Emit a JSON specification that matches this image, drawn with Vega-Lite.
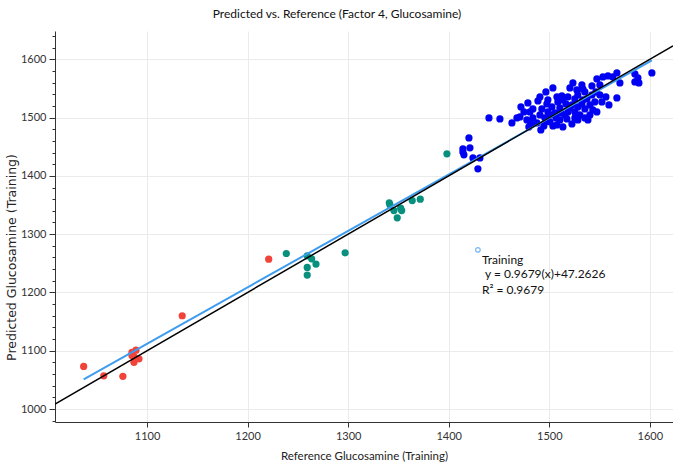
{
  "$schema": "https://vega.github.io/schema/vega-lite/v6.json",
  "width": 618,
  "height": 391,
  "autosize": {"type": "none"},
  "padding": {"left": 55, "top": 31, "right": 0, "bottom": 44},
  "background": "white",
  "title": {"text": "Predicted vs. Reference (Factor 4, Glucosamine)", "font": "Lato", "fontSize": 12, "fontWeight": "normal", "color": "#111111", "dx": -27, "offset": 9},
  "config": {
    "view": {"stroke": null},
    "axis": {
      "labelFont": "Lato", "labelFontSize": 11, "labelColor": "#333333",
      "titleFont": "Lato", "titleFontWeight": "normal", "titleColor": "#222222",
      "domainColor": "#333333", "tickColor": "#333333", "gridColor": "#ebebeb"
    }
  },
  "datasets": {
    "points": [
      {"ref": 1037, "pred": 1073, "group": "A"},
      {"ref": 1057, "pred": 1057, "group": "A"},
      {"ref": 1076, "pred": 1056, "group": "A"},
      {"ref": 1085, "pred": 1097, "group": "A"},
      {"ref": 1089, "pred": 1101, "group": "A"},
      {"ref": 1085, "pred": 1092, "group": "A"},
      {"ref": 1087, "pred": 1090, "group": "A"},
      {"ref": 1087, "pred": 1080, "group": "A"},
      {"ref": 1092, "pred": 1086, "group": "A"},
      {"ref": 1135, "pred": 1160, "group": "A"},
      {"ref": 1221, "pred": 1257, "group": "A"},
      {"ref": 1238.5, "pred": 1266.8, "group": "B"},
      {"ref": 1259.3, "pred": 1262.8, "group": "B"},
      {"ref": 1263.7, "pred": 1257.7, "group": "B"},
      {"ref": 1268, "pred": 1248.6, "group": "B"},
      {"ref": 1259.3, "pred": 1242.8, "group": "B"},
      {"ref": 1259.3, "pred": 1229.7, "group": "B"},
      {"ref": 1297, "pred": 1268, "group": "B"},
      {"ref": 1340.9, "pred": 1353.7, "group": "B"},
      {"ref": 1341.5, "pred": 1350.2, "group": "B"},
      {"ref": 1345.5, "pred": 1340.5, "group": "B"},
      {"ref": 1352.2, "pred": 1344.6, "group": "B"},
      {"ref": 1353.2, "pred": 1340.5, "group": "B"},
      {"ref": 1348.8, "pred": 1328, "group": "B"},
      {"ref": 1363.7, "pred": 1357.6, "group": "B"},
      {"ref": 1371.7, "pred": 1360, "group": "B"},
      {"ref": 1398.2, "pred": 1437.7, "group": "B"},
      {"ref": 1440.0, "pred": 1499.4, "group": "C"},
      {"ref": 1450.9, "pred": 1497.7, "group": "C"},
      {"ref": 1462.8, "pred": 1490.8, "group": "C"},
      {"ref": 1420.1, "pred": 1465.1, "group": "C"},
      {"ref": 1414.1, "pred": 1446.3, "group": "C"},
      {"ref": 1421.1, "pred": 1448.0, "group": "C"},
      {"ref": 1415.1, "pred": 1436.0, "group": "C"},
      {"ref": 1414.1, "pred": 1441.1, "group": "C"},
      {"ref": 1424.1, "pred": 1430.8, "group": "C"},
      {"ref": 1431.0, "pred": 1430.8, "group": "C"},
      {"ref": 1429.0, "pred": 1412.0, "group": "C"},
      {"ref": 1467.8, "pred": 1499.4, "group": "C"},
      {"ref": 1470.8, "pred": 1501.1, "group": "C"},
      {"ref": 1471.8, "pred": 1518.3, "group": "C"},
      {"ref": 1478.7, "pred": 1525.1, "group": "C"},
      {"ref": 1480.7, "pred": 1509.7, "group": "C"},
      {"ref": 1483.7, "pred": 1514.8, "group": "C"},
      {"ref": 1490.7, "pred": 1535.4, "group": "C"},
      {"ref": 1488.7, "pred": 1528.6, "group": "C"},
      {"ref": 1492.6, "pred": 1514.8, "group": "C"},
      {"ref": 1477.7, "pred": 1495.9, "group": "C"},
      {"ref": 1479.7, "pred": 1484.0, "group": "C"},
      {"ref": 1487.7, "pred": 1490.8, "group": "C"},
      {"ref": 1481.7, "pred": 1489.1, "group": "C"},
      {"ref": 1498.6, "pred": 1530.3, "group": "C"},
      {"ref": 1502.6, "pred": 1518.3, "group": "C"},
      {"ref": 1507.6, "pred": 1535.4, "group": "C"},
      {"ref": 1512.5, "pred": 1537.1, "group": "C"},
      {"ref": 1518.5, "pred": 1535.4, "group": "C"},
      {"ref": 1496.6, "pred": 1544.0, "group": "C"},
      {"ref": 1503.6, "pred": 1550.8, "group": "C"},
      {"ref": 1500.6, "pred": 1504.6, "group": "C"},
      {"ref": 1495.6, "pred": 1499.4, "group": "C"},
      {"ref": 1498.6, "pred": 1509.7, "group": "C"},
      {"ref": 1505.6, "pred": 1508.0, "group": "C"},
      {"ref": 1490.7, "pred": 1504.6, "group": "C"},
      {"ref": 1483.7, "pred": 1499.4, "group": "C"},
      {"ref": 1474.8, "pred": 1509.7, "group": "C"},
      {"ref": 1494.6, "pred": 1485.7, "group": "C"},
      {"ref": 1500.6, "pred": 1492.6, "group": "C"},
      {"ref": 1491.6, "pred": 1478.8, "group": "C"},
      {"ref": 1508.5, "pred": 1526.8, "group": "C"},
      {"ref": 1497.6, "pred": 1523.4, "group": "C"},
      {"ref": 1506.6, "pred": 1499.4, "group": "C"},
      {"ref": 1523.5, "pred": 1559.4, "group": "C"},
      {"ref": 1532.4, "pred": 1556.0, "group": "C"},
      {"ref": 1533.4, "pred": 1549.1, "group": "C"},
      {"ref": 1542.4, "pred": 1554.3, "group": "C"},
      {"ref": 1547.3, "pred": 1566.3, "group": "C"},
      {"ref": 1520.5, "pred": 1550.8, "group": "C"},
      {"ref": 1527.4, "pred": 1547.4, "group": "C"},
      {"ref": 1535.4, "pred": 1544.0, "group": "C"},
      {"ref": 1528.4, "pred": 1538.8, "group": "C"},
      {"ref": 1525.4, "pred": 1532.0, "group": "C"},
      {"ref": 1537.4, "pred": 1532.0, "group": "C"},
      {"ref": 1542.4, "pred": 1538.8, "group": "C"},
      {"ref": 1546.3, "pred": 1544.0, "group": "C"},
      {"ref": 1550.3, "pred": 1538.8, "group": "C"},
      {"ref": 1545.3, "pred": 1526.8, "group": "C"},
      {"ref": 1540.4, "pred": 1521.7, "group": "C"},
      {"ref": 1532.4, "pred": 1523.4, "group": "C"},
      {"ref": 1522.5, "pred": 1521.7, "group": "C"},
      {"ref": 1513.5, "pred": 1530.3, "group": "C"},
      {"ref": 1510.5, "pred": 1516.6, "group": "C"},
      {"ref": 1518.5, "pred": 1509.7, "group": "C"},
      {"ref": 1525.4, "pred": 1509.7, "group": "C"},
      {"ref": 1530.4, "pred": 1504.6, "group": "C"},
      {"ref": 1535.4, "pred": 1514.8, "group": "C"},
      {"ref": 1515.5, "pred": 1504.6, "group": "C"},
      {"ref": 1517.5, "pred": 1497.7, "group": "C"},
      {"ref": 1522.5, "pred": 1489.1, "group": "C"},
      {"ref": 1510.5, "pred": 1495.9, "group": "C"},
      {"ref": 1507.6, "pred": 1487.4, "group": "C"},
      {"ref": 1513.5, "pred": 1484.0, "group": "C"},
      {"ref": 1528.4, "pred": 1495.9, "group": "C"},
      {"ref": 1540.4, "pred": 1504.6, "group": "C"},
      {"ref": 1538.4, "pred": 1495.9, "group": "C"},
      {"ref": 1547.3, "pred": 1509.7, "group": "C"},
      {"ref": 1552.3, "pred": 1526.8, "group": "C"},
      {"ref": 1520.5, "pred": 1516.6, "group": "C"},
      {"ref": 1528.4, "pred": 1518.3, "group": "C"},
      {"ref": 1533.4, "pred": 1530.3, "group": "C"},
      {"ref": 1516.5, "pred": 1523.4, "group": "C"},
      {"ref": 1543.3, "pred": 1513.1, "group": "C"},
      {"ref": 1535.4, "pred": 1499.4, "group": "C"},
      {"ref": 1525.4, "pred": 1499.4, "group": "C"},
      {"ref": 1511.5, "pred": 1508.0, "group": "C"},
      {"ref": 1503.6, "pred": 1485.7, "group": "C"},
      {"ref": 1496.6, "pred": 1492.6, "group": "C"},
      {"ref": 1553.3, "pred": 1569.7, "group": "C"},
      {"ref": 1558.3, "pred": 1571.4, "group": "C"},
      {"ref": 1563.2, "pred": 1569.7, "group": "C"},
      {"ref": 1567.2, "pred": 1576.6, "group": "C"},
      {"ref": 1570.2, "pred": 1559.4, "group": "C"},
      {"ref": 1556.3, "pred": 1535.4, "group": "C"},
      {"ref": 1567.2, "pred": 1533.7, "group": "C"},
      {"ref": 1559.3, "pred": 1521.7, "group": "C"},
      {"ref": 1585.1, "pred": 1574.8, "group": "C"},
      {"ref": 1588.1, "pred": 1568.0, "group": "C"},
      {"ref": 1585.1, "pred": 1561.1, "group": "C"},
      {"ref": 1589.1, "pred": 1559.4, "group": "C"},
      {"ref": 1602.0, "pred": 1576.6, "group": "C"},
      {"ref": 1550.3, "pred": 1556.0, "group": "C"}
    ],
    "identity": [
      {"ref": 1008.5, "pred": 1008.5},
      {"ref": 1623, "pred": 1623}
    ],
    "fit": [
      {"ref": 1037, "pred": 1051.0},
      {"ref": 1602, "pred": 1597.9}
    ],
    "one": [{}]
  },
  "layer": [
    {
      "data": {"name": "points"},
      "mark": {"type": "circle", "size": 52, "opacity": 1},
      "encoding": {
        "x": {
          "field": "ref", "type": "quantitative",
          "scale": {"domain": [1008.5, 1623], "nice": false, "zero": false},
          "axis": {
            "title": "Reference Glucosamine (Training)", "titleFontSize": 11.5,
            "values": [1100, 1200, 1300, 1400, 1500, 1600], "tickCount": 100,
            "format": "d", "grid": true, "tickSize": 5, "labelPadding": 3, "titlePadding": 9
          }
        },
        "y": {
          "field": "pred", "type": "quantitative",
          "scale": {"domain": [977.7, 1648.5], "nice": false, "zero": false},
          "axis": {
            "title": "Predicted Glucosamine (Training)", "titleFont": "DejaVu Sans", "titleFontSize": 12.5,
            "titleX": -37, "titleY": 226,
            "values": [980, 1000, 1020, 1040, 1060, 1080, 1100, 1120, 1140, 1160, 1180, 1200, 1220, 1240, 1260, 1280, 1300, 1320, 1340, 1360, 1380, 1400, 1420, 1440, 1460, 1480, 1500, 1520, 1540, 1560, 1580, 1600, 1620, 1640],
            "tickCount": 100,
            "labelOverlap": false,
            "format": "d",
            "labelExpr": "datum.value % 100 === 0 ? datum.label : ''",
            "grid": true,
            "gridOpacity": {"condition": {"test": "datum.value % 100 === 0", "value": 1}, "value": 0},
            "tickSize": {"condition": {"test": "datum.value % 100 === 0", "value": 6}, "value": 3},
            "labelPadding": 3
          }
        },
        "color": {
          "field": "group", "type": "nominal",
          "scale": {"domain": ["A", "B", "C"], "range": ["#f2433a", "#07907e", "#0000f2"]},
          "legend": null
        }
      }
    },
    {
      "data": {"name": "fit"},
      "mark": {"type": "line", "color": "#3d9cf0", "strokeWidth": 2, "clip": true},
      "encoding": {
        "x": {"field": "ref", "type": "quantitative"},
        "y": {"field": "pred", "type": "quantitative"}
      }
    },
    {
      "data": {"name": "identity"},
      "mark": {"type": "line", "color": "#000000", "strokeWidth": 1.5, "clip": true},
      "encoding": {
        "x": {"field": "ref", "type": "quantitative"},
        "y": {"field": "pred", "type": "quantitative"}
      }
    },
    {
      "data": {"name": "one"},
      "mark": {"type": "point", "filled": false, "color": "#3d9cf0", "size": 22, "strokeWidth": 1.2},
      "encoding": {"x": {"datum": 1429}, "y": {"datum": 1273}}
    },
    {
      "data": {"name": "one"},
      "mark": {"type": "text", "align": "left", "baseline": "middle", "font": "Lato", "fontSize": 12, "color": "#111111"},
      "encoding": {"x": {"datum": 1433}, "y": {"datum": 1255}, "text": {"value": "Training"}}
    },
    {
      "data": {"name": "one"},
      "mark": {"type": "text", "align": "left", "baseline": "middle", "font": "Lato", "fontSize": 12, "color": "#111111"},
      "encoding": {"x": {"datum": 1436}, "y": {"datum": 1231}, "text": {"value": "y  = 0.9679(x)+47.2626"}}
    },
    {
      "data": {"name": "one"},
      "mark": {"type": "text", "align": "left", "baseline": "middle", "font": "Lato", "fontSize": 12, "color": "#111111"},
      "encoding": {"x": {"datum": 1433}, "y": {"datum": 1204}, "text": {"value": "R² = 0.9679"}}
    }
  ]
}
